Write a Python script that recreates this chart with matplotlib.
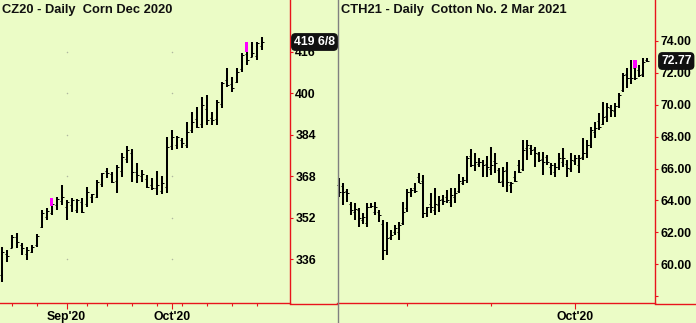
import matplotlib
matplotlib.use('Agg')
import matplotlib.pyplot as plt
from matplotlib.lines import Line2D
import numpy as np

# Corn Dec 2020 (CZ20), daily bars
corn_open = [330.0, 338.1, 340.4, 344.5, 341.5, 338.0, 339.0, 341.5, 348.5, 352.5,
             354.0, 357.0, 358.5, 356.0, 357.0, 355.0, 358.0, 357.5, 360.0, 360.0,
             365.0, 370.0, 369.0, 366.0, 370.0, 374.7, 377.0, 369.6, 368.0, 367.0,
             364.5, 363.5, 362.5, 364.0, 379.5, 380.0, 382.0, 380.0, 386.0, 390.0,
             388.0, 394.0, 390.5, 390.0, 396.0, 405.0, 403.5, 404.5, 409.5, 415.0,
             414.0, 414.5, 418.0]
corn_high = [340.8, 339.6, 345.4, 346.1, 342.3, 340.8, 341.5, 345.8, 355.0, 355.8,
             359.6, 360.0, 364.6, 358.9, 359.6, 359.2, 359.6, 363.9, 361.2, 366.6,
             369.3, 371.2, 369.6, 372.4, 377.0, 379.7, 378.5, 373.1, 370.4, 368.5,
             367.3, 370.0, 368.1, 383.1, 385.8, 383.5, 382.7, 388.9, 392.8, 394.7,
             398.5, 399.3, 392.8, 397.4, 404.3, 409.7, 406.2, 409.7, 415.5, 419.7,
             419.7, 419.7, 421.6]
corn_low = [327.3, 335.0, 340.4, 340.4, 337.7, 335.8, 338.4, 340.8, 348.1, 351.1,
            353.1, 355.0, 356.9, 351.1, 354.2, 353.8, 353.8, 356.2, 357.7, 359.6,
            363.9, 367.3, 365.4, 361.6, 367.7, 373.1, 365.8, 365.4, 365.8, 363.5,
            362.7, 360.8, 361.2, 361.6, 378.1, 378.5, 378.9, 378.9, 384.7, 386.6,
            386.6, 387.7, 387.7, 387.7, 394.3, 402.4, 400.5, 403.9, 408.2, 410.9,
            413.9, 412.8, 416.6]
corn_close = [338.8, 337.3, 344.6, 342.7, 340.4, 339.6, 340.8, 345.0, 353.8, 354.6,
              357.5, 359.2, 360.0, 358.1, 358.9, 358.9, 354.2, 361.9, 361.2, 365.8,
              369.3, 369.3, 365.8, 371.6, 375.4, 378.1, 369.6, 368.5, 368.9, 363.9,
              363.5, 364.6, 365.4, 379.3, 383.1, 383.1, 380.8, 385.1, 388.9, 387.0,
              395.5, 389.7, 389.7, 396.6, 403.9, 403.2, 402.0, 408.2, 414.7, 412.8,
              415.5, 419.3, 419.75]
corn_marks = [(10, 356.6, 359.6), (49, 415.9, 419.7)]   # (bar, bottom, top)

# Cotton No. 2 Mar 2021 (CTH21), daily bars
cotton_open = [65.0, 64.9, 64.6, 63.8, 63.3, 63.4, 62.8, 62.6, 63.6, 63.3,
               63.3, 62.5, 60.9, 61.7, 62.0, 62.0, 62.6, 63.5, 64.5, 64.8,
               65.5, 65.2, 63.2, 63.8, 63.4, 63.7, 64.1, 64.2, 63.9, 64.2,
               64.6, 65.1, 65.3, 66.8, 66.2, 66.3, 66.4, 66.3, 66.0, 66.5,
               65.9, 65.2, 65.9, 65.0, 65.5, 66.2, 66.0, 67.3, 67.3, 67.2,
               66.9, 66.6, 66.7, 66.1, 65.8, 66.1, 66.4, 66.3, 66.0, 66.5,
               66.2, 66.7, 67.0, 67.5, 68.3, 69.0, 68.8, 69.3, 69.8, 69.6,
               69.9, 70.9, 71.9, 71.7, 72.3, 72.2, 71.9, 72.8]
cotton_high = [65.39, 65.12, 64.70, 63.92, 63.82, 63.51, 63.20, 63.82, 63.82, 63.92,
               63.40, 62.78, 62.67, 62.15, 62.46, 62.67, 63.92, 64.70, 64.76, 65.08,
               65.71, 65.60, 63.61, 64.49, 64.76, 64.28, 64.34, 64.66, 64.76, 64.76,
               65.66, 65.49, 66.79, 67.21, 66.96, 66.65, 66.54, 66.79, 67.37, 66.96,
               66.02, 66.12, 66.43, 65.18, 65.87, 66.54, 67.79, 67.79, 67.48, 67.37,
               67.06, 67.06, 66.85, 66.33, 66.33, 66.96, 67.27, 66.54, 66.96, 66.85,
               66.85, 67.90, 67.79, 68.63, 68.94, 69.47, 70.19, 70.09, 69.99, 70.09,
               70.72, 71.97, 72.29, 72.81, 72.81, 72.50, 72.95, 72.95]
cotton_low = [64.24, 63.72, 63.92, 63.09, 62.78, 62.36, 62.53, 62.36, 63.51, 63.09,
              62.67, 60.27, 60.58, 61.52, 61.84, 61.52, 62.46, 63.30, 64.24, 64.45,
              65.08, 62.88, 62.95, 63.20, 63.09, 63.30, 63.72, 63.82, 63.57, 63.82,
              64.45, 64.97, 65.08, 66.12, 65.87, 66.12, 65.49, 65.49, 65.60, 65.71,
              65.08, 64.87, 64.55, 64.45, 65.18, 65.71, 65.87, 66.54, 66.85, 66.12,
              66.43, 65.60, 66.23, 65.60, 65.49, 65.91, 66.12, 65.49, 65.81, 66.23,
              65.71, 66.54, 66.65, 67.27, 67.90, 68.42, 68.73, 68.94, 69.25, 69.25,
              69.78, 70.82, 71.03, 71.29, 71.55, 71.76, 71.76, 72.70]
cotton_close = [64.55, 64.55, 64.45, 63.40, 63.45, 62.88, 62.95, 63.61, 63.66, 63.61,
                63.09, 60.90, 61.63, 61.84, 62.26, 62.46, 63.30, 64.55, 64.66, 64.60,
                65.12, 63.20, 63.57, 63.57, 63.78, 64.03, 63.99, 64.03, 64.34, 64.45,
                65.20, 65.29, 66.65, 66.23, 66.43, 66.43, 66.23, 66.08, 66.23, 66.33,
                65.18, 65.87, 65.18, 65.12, 65.22, 65.81, 67.17, 67.48, 67.17, 66.96,
                66.54, 66.43, 66.43, 66.23, 66.12, 66.65, 66.65, 66.02, 66.54, 66.65,
                66.65, 66.96, 67.48, 68.42, 68.53, 68.63, 69.25, 69.88, 69.67, 69.92,
                70.61, 71.87, 71.66, 71.66, 71.66, 71.87, 72.70, 72.77]
cotton_marks = [(74, 72.29, 72.81)]

corn_yticks = [336, 352, 368, 384, 400, 416]
cotton_yticks = [58, 60, 62, 64, 66, 68, 70, 72, 74]
cotton_ylabels = ['', '60.00', '62.00', '64.00', '66.00', '68.00', '70.00', '72.00', '74.00']
corn_major = [13, 34]
corn_major_labels = ["Sep'20", "Oct'20"]
corn_minor = [2, 7, 17, 21, 26, 31, 36, 41, 46, 51]
cotton_major = [59]
cotton_major_labels = ["Oct'20"]
cotton_minor = [17, 38]

BG = '#ebfcc6'
RED = '#e8141c'
W, H = 696, 323
FONT = 'Liberation Sans'
plt.rcParams['font.family'] = FONT
plt.rcParams['font.weight'] = 'bold'

fig = plt.figure(figsize=(W / 100., H / 100.), dpi=100)
fig.patch.set_facecolor(BG)


def draw_panel(ax, o, h, l, c, marks, px_per_bar, xlim, ylim):
    x = np.arange(len(o))
    tick = 2.0 / px_per_bar
    ax.vlines(x, l, h, color='black', lw=1.45)
    ax.hlines(o, x - tick, x, color='black', lw=0.72)
    ax.hlines(c, x, x + tick, color='black', lw=0.72)
    for i, lo, hi in marks:
        ax.bar(i, hi - lo, bottom=lo, width=3.3 / px_per_bar, color='#ff00ff',
               zorder=3)
    ax.set_xlim(xlim)
    ax.set_ylim(ylim)
    ax.set_facecolor(BG)
    for s in ['top', 'left']:
        ax.spines[s].set_visible(False)
    for s in ['right', 'bottom']:
        ax.spines[s].set_color(RED)
        ax.spines[s].set_linewidth(1.0)
    ax.yaxis.tick_right()
    ax.tick_params(axis='y', colors=RED, labelcolor='black', length=2.3,
                   width=0.8, pad=1.5, labelsize=8.8)
    ax.tick_params(axis='x', which='major', colors=RED, labelcolor='black',
                   length=4.5, width=0.8, pad=1.5, labelsize=8.8)
    ax.tick_params(axis='x', which='minor', colors=RED, length=2.5, width=0.8)


bot = 20. / H
top_h = 303. / H

ax1 = fig.add_axes([0, bot, 290. / W, top_h])
draw_panel(ax1, corn_open, corn_high, corn_low, corn_close, corn_marks, 5.0,
           (-0.34, 57.66), (319.2, 435.9))
ax1.set_yticks(corn_yticks)
ax1.set_xticks(corn_major)
ax1.set_xticklabels(corn_major_labels)
ax1.set_xticks(corn_minor, minor=True)
# grid dots
gx, gy = np.meshgrid(corn_major, corn_yticks)
ax1.scatter(gx.ravel(), gy.ravel(), s=1.2, color='#b0b8a0', zorder=0, lw=0)

ax2 = fig.add_axes([337. / W, bot, 318. / W, top_h])
draw_panel(ax2, cotton_open, cotton_high, cotton_low, cotton_close, cotton_marks,
           4.0, (-0.5, 79.0), (57.57, 76.57))
ax2.set_yticks(cotton_yticks)
ax2.set_yticklabels(cotton_ylabels)
ax2.set_xticks(cotton_major)
ax2.set_xticklabels(cotton_major_labels)
ax2.set_xticks(cotton_minor, minor=True)

# frame lines outside the axes
yb = 1 - 303.5 / H
fig.add_artist(Line2D([290. / W, 337. / W], [yb, yb], color=RED, lw=1.0))
fig.add_artist(Line2D([655. / W, 1.0], [yb, yb], color=RED, lw=1.0))
fig.add_artist(Line2D([337.5 / W, 337.5 / W], [0, 1], color='#808080', lw=1.0))

# titles
fig.text(2. / W, 1 - 10. / H, 'CZ20 - Daily  Corn Dec 2020', fontsize=9.3,
         fontweight='bold', va='center', ha='left', color='#101010')
fig.text(341. / W, 1 - 10. / H, 'CTH21 - Daily  Cotton No. 2 Mar 2021',
         fontsize=9.3, fontweight='bold', va='center', ha='left', color='#101010')

# last price boxes
box = dict(boxstyle='round,pad=0.18,rounding_size=0.3', fc='#111111', ec='#111111')
fig.text(294. / W, 1 - 42. / H, '419 6/8', fontsize=8.8, fontweight='bold',
         color='white', va='center', ha='left', bbox=box, zorder=10)
fig.text(661. / W, 1 - 61. / H, '72.77', fontsize=8.8, fontweight='bold',
         color='white', va='center', ha='left', bbox=box, zorder=10)

fig.savefig('out.png', dpi=100, facecolor=BG)
